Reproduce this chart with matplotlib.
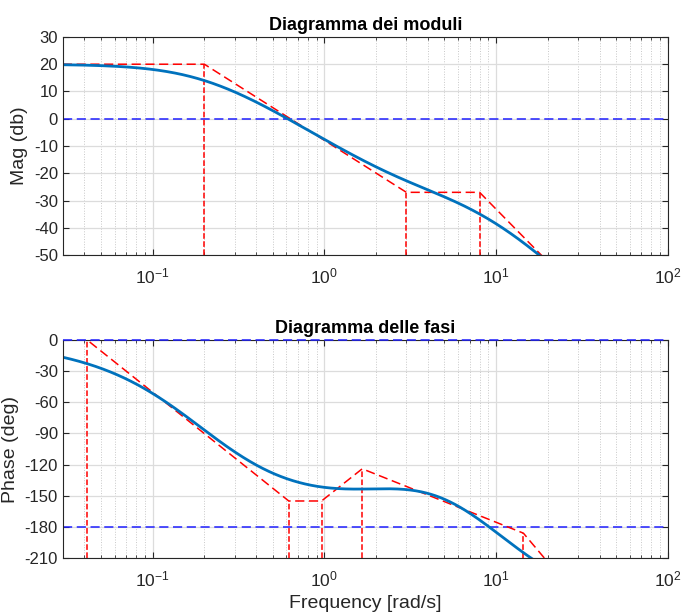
import numpy as np
import matplotlib
matplotlib.use("Agg")
import matplotlib.pyplot as plt
from matplotlib.ticker import FixedLocator, LogLocator, NullFormatter

plt.rcParams['font.family'] = ['Liberation Sans', 'DejaVu Sans']
plt.rcParams['mathtext.fontset'] = 'custom'
plt.rcParams['mathtext.rm'] = 'Liberation Sans'
plt.rcParams['axes.unicode_minus'] = False

# transfer function: K (1+s/z)^n / prod (1+s/p)^m
gain = 10.0
zeros = [3.0, 3.0]
poles = [0.2, 0.2, 8.0, 8.0, 8.0]

# asymptotic (Bode) diagrams, breakpoints
magAsymW = [0.03, 0.2, 3.0, 8.0, 20.0]
magAsymDb = [20, 20, -27, -27, -52.5]
magVertW = [0.2, 3.0, 8.0]
magVertTop = [20, -27, -27]

phAsymW = [0.03, 0.0416, 0.62, 0.962, 1.66, 14.4, 20.0]
phAsymDeg = [0, 0, -155, -155, -124, -186, -214]
phVertW = [0.0416, 0.62, 0.962, 1.66, 14.4]
phVertTop = [0, -155, -155, -124, -186]

magTicks = list(range(-50, 31, 10))
phTicks = list(range(-210, 1, 30))
xTicks = [0.1, 1, 10, 100]
xTickLabels = [r'$\mathregular{10^{-1}}$', r'$\mathregular{10^{0}}$',
               r'$\mathregular{10^{1}}$', r'$\mathregular{10^{2}}$']

# frequency response
w = np.logspace(np.log10(0.03), 2, 800)
s = 1j * w
G = gain * np.ones_like(s)
for z in zeros:
    G = G * (1 + s / z)
for p in poles:
    G = G / (1 + s / p)
magDb = 20 * np.log10(np.abs(G))
phase = np.degrees(np.unwrap(np.angle(G)))

fig = plt.figure(figsize=(6.83, 6.16), dpi=100)
axMag = fig.add_axes([0.092, 0.586, 0.886, 0.354])
axPh = fig.add_axes([0.092, 0.094, 0.886, 0.354])

textCol = '#262626'


def styleAxes(ax, yticks):
    ax.set_xscale('log')
    ax.set_xlim(0.03, 100)
    ax.set_ylim(yticks[0], yticks[-1])
    ax.yaxis.set_major_locator(FixedLocator(yticks))
    ax.xaxis.set_major_locator(FixedLocator(xTicks))
    ax.set_xticklabels(xTickLabels)
    ax.xaxis.set_minor_locator(LogLocator(base=10, subs=np.arange(2, 10)))
    ax.xaxis.set_minor_formatter(NullFormatter())
    ax.grid(True, which='major', color='#dcdcdc', linewidth=0.9, linestyle='-')
    ax.grid(True, which='minor', axis='x', color='#c8c8c8', linewidth=0.7, linestyle=':')
    ax.set_axisbelow(True)
    ax.tick_params(which='both', direction='in', top=True, right=True, colors=textCol,
                   labelsize=12)
    ax.tick_params(axis='x', labelsize=12.5, pad=8)
    ax.tick_params(which='major', length=4)
    ax.tick_params(which='minor', length=2)
    for sp in ax.spines.values():
        sp.set_color(textCol)
        sp.set_linewidth(0.8)


# magnitude
styleAxes(axMag, magTicks)
axMag.axhline(0, color='#2020ff', linestyle='--', linewidth=1.1, dashes=(6, 3))
axMag.plot(magAsymW, magAsymDb, color='#ff0000', linestyle='--', linewidth=1.1, dashes=(6, 3))
axMag.vlines(magVertW, -50, magVertTop, colors='#ff0000', linestyles='--', linewidth=1.1)
axMag.plot(w, magDb, color='#0072BD', linewidth=2)
axMag.set_ylabel('Mag (db)', fontsize=14, color=textCol)
axMag.set_title('Diagramma dei moduli', fontsize=13, fontweight='bold', pad=5)

# phase
styleAxes(axPh, phTicks)
axPh.axhline(0, color='#2020ff', linestyle='--', linewidth=1.1, dashes=(6, 3),
             clip_on=False, zorder=5)
axPh.axhline(-180, color='#2020ff', linestyle='--', linewidth=1.1, dashes=(6, 3))
axPh.plot(phAsymW, phAsymDeg, color='#ff0000', linestyle='--', linewidth=1.1, dashes=(6, 3))
axPh.vlines(phVertW, -210, phVertTop, colors='#ff0000', linestyles='--', linewidth=1.1)
axPh.plot(w, phase, color='#0072BD', linewidth=2)
axPh.set_ylabel('Phase (deg)', fontsize=14, color=textCol)
axPh.set_xlabel('Frequency [rad/s]', fontsize=14, color=textCol)
axPh.set_title('Diagramma delle fasi', fontsize=13, fontweight='bold', pad=5)

plt.savefig('out.png', dpi=100)
